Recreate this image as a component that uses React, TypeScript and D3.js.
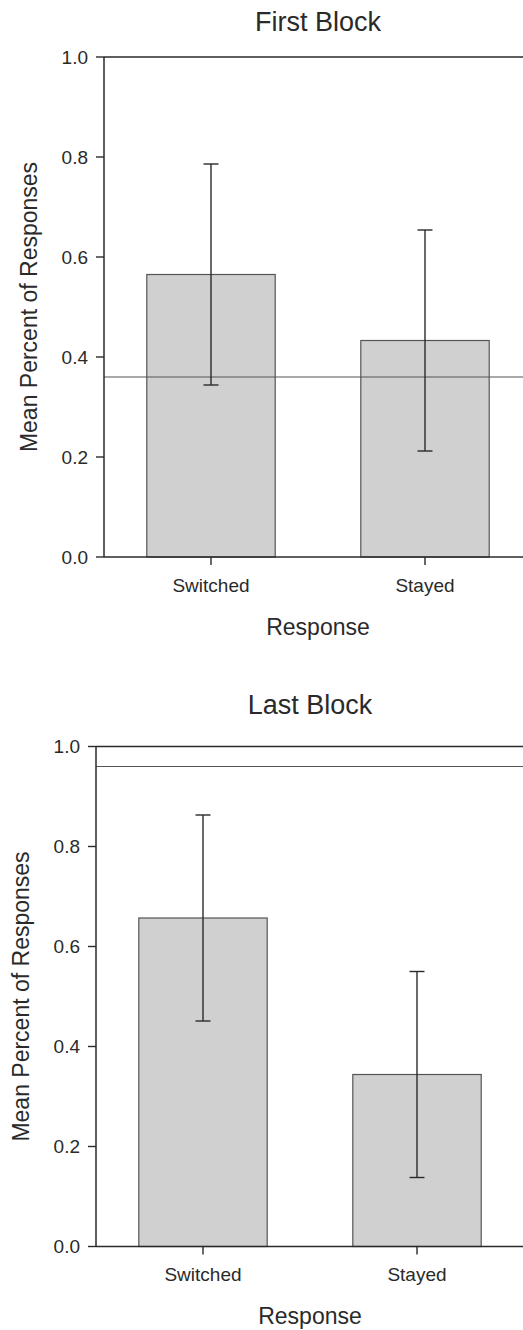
import React from "react";
import * as d3 from "d3";

const categories = ["Switched", "Stayed"];
const firstMeans = [0.565, 0.433];
const firstErrors = [0.221, 0.221];
const firstReference = 0.36;
const lastMeans = [0.657, 0.344];
const lastErrors = [0.206, 0.206];
const lastReference = 0.96;
const yTicks = [0, 0.2, 0.4, 0.6, 0.8, 1.0];
const titles = ["First Block", "Last Block"];
const xTitle = "Response";
const yTitle = "Mean Percent of Responses";

const FONT = "'Liberation Sans', Arial, Helvetica, sans-serif";
const INK = "#2a2a2a";

type PanelProps = {
  title: string;
  means: number[];
  errors: number[];
  reference: number;
  axisX: number;
  yTop: number;
  yBottom: number;
  titleY: number;
  tickLabelY: number;
  xTitleY: number;
  yTitleX: number;
};

function Panel(p: PanelProps) {
  const y = d3.scaleLinear().domain([0, 1]).range([p.yBottom, p.yTop]);
  const x = d3
    .scaleBand<string>()
    .domain(categories)
    .range([p.axisX, p.axisX + 428])
    .paddingInner(0.4)
    .paddingOuter(0.2);
  const right = p.axisX + 428;
  const midX = (p.axisX + right) / 2;
  const bw = x.bandwidth();
  const cap = 7.5;
  return (
    <g>
      <text x={midX} y={p.titleY} textAnchor="middle" fontFamily={FONT} fontSize={27} fill={INK}>
        {p.title}
      </text>
      {categories.map((c, i) => (
        <rect
          key={c}
          x={x(c)!}
          y={y(p.means[i])}
          width={bw}
          height={y(0) - y(p.means[i])}
          fill="#d0d0d0"
          stroke="#555"
          strokeWidth={1.2}
        />
      ))}
      <line x1={p.axisX} x2={right} y1={y(p.reference)} y2={y(p.reference)} stroke="#555" strokeWidth={1.1} />
      {categories.map((c, i) => {
        const cx = x(c)! + bw / 2;
        const lo = y(p.means[i] - p.errors[i]);
        const hi = y(p.means[i] + p.errors[i]);
        return (
          <g key={c} stroke={INK} strokeWidth={1.4}>
            <line x1={cx} x2={cx} y1={lo} y2={hi} />
            <line x1={cx - cap} x2={cx + cap} y1={hi} y2={hi} />
            <line x1={cx - cap} x2={cx + cap} y1={lo} y2={lo} />
          </g>
        );
      })}
      <line x1={p.axisX} x2={p.axisX} y1={y(1)} y2={y(0)} stroke={INK} strokeWidth={1.5} />
      <line x1={p.axisX} x2={right} y1={y(1)} y2={y(1)} stroke={INK} strokeWidth={1.5} />
      <line x1={p.axisX} x2={right} y1={y(0)} y2={y(0)} stroke={INK} strokeWidth={1.5} />
      <line x1={right} x2={right} y1={y(1)} y2={y(0)} stroke={INK} strokeWidth={1.5} />
      {yTicks.map((t) => (
        <g key={t}>
          <line x1={p.axisX - 8} x2={p.axisX} y1={y(t)} y2={y(t)} stroke={INK} strokeWidth={1.4} />
          <text
            x={p.axisX - 16}
            y={y(t)}
            dy="0.36em"
            textAnchor="end"
            fontFamily={FONT}
            fontSize={19}
            fill={INK}
          >
            {d3.format(".1f")(t)}
          </text>
        </g>
      ))}
      {categories.map((c) => {
        const cx = x(c)! + bw / 2;
        return (
          <g key={c}>
            <line x1={cx} x2={cx} y1={y(0)} y2={y(0) + 8} stroke={INK} strokeWidth={1.4} />
            <text x={cx} y={p.tickLabelY} textAnchor="middle" fontFamily={FONT} fontSize={19} fill={INK}>
              {c}
            </text>
          </g>
        );
      })}
      <text x={midX} y={p.xTitleY} textAnchor="middle" fontFamily={FONT} fontSize={23} fill={INK}>
        {xTitle}
      </text>
      <text
        transform={`translate(${p.yTitleX},${(p.yTop + p.yBottom) / 2}) rotate(-90)`}
        textAnchor="middle"
        fontFamily={FONT}
        fontSize={23}
        fill={INK}
      >
        {yTitle}
      </text>
    </g>
  );
}

export default function App() {
  return (
    <svg
      width={523}
      height={1330}
      style={{ position: "absolute", left: 0, top: 0, background: "#fff" }}
    >
      <rect x={0} y={0} width={523} height={1330} fill="#fff" />
      <Panel
        title={titles[0]}
        means={firstMeans}
        errors={firstErrors}
        reference={firstReference}
        axisX={104}
        yTop={57}
        yBottom={557}
        titleY={31}
        tickLabelY={592}
        xTitleY={635}
        yTitleX={37}
      />
      <Panel
        title={titles[1]}
        means={lastMeans}
        errors={lastErrors}
        reference={lastReference}
        axisX={96}
        yTop={746.5}
        yBottom={1246.5}
        titleY={714}
        tickLabelY={1281}
        xTitleY={1324}
        yTitleX={29}
      />
    </svg>
  );
}
